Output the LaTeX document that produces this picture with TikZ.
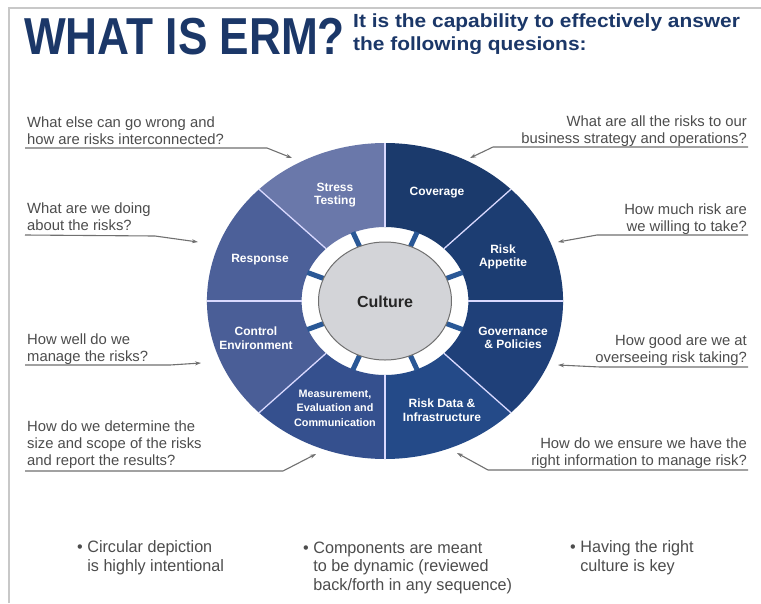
\documentclass[tikz,border=0pt]{standalone}
\usepackage{fontspec}
\setmainfont{Liberation Sans}
\newfontfamily\condfont[FakeStretch=0.85]{Liberation Sans}
\newfontfamily\subfont[FakeStretch=1.1]{Liberation Sans}
\newfontfamily\bulfont[FakeStretch=0.98]{Liberation Sans}
\usetikzlibrary{arrows.meta}
\definecolor{navy}{HTML}{1B3768}
\definecolor{qgray}{HTML}{4D4D4D}
\definecolor{lgray}{HTML}{707070}
\definecolor{frame}{HTML}{C8C8C8}
\definecolor{cCov}{HTML}{1B3A6C}
\definecolor{cApp}{HTML}{1C3D72}
\definecolor{cGov}{HTML}{1F4079}
\definecolor{cDat}{HTML}{244A88}
\definecolor{cMea}{HTML}{35508E}
\definecolor{cCon}{HTML}{4A5E97}
\definecolor{cRes}{HTML}{4C6099}
\definecolor{cStr}{HTML}{6A78AA}
\definecolor{ctick}{HTML}{2A5896}
\definecolor{cult}{HTML}{D3D4D8}
\tikzset{
  qtext/.style={font=\fontsize{14.8}{17}\selectfont, text=qgray, inner sep=0pt},
  qline/.style={draw=lgray, line width=1.1pt, -{Stealth[length=6pt,width=4pt]}},
  seglabel/.style={font=\bfseries\fontsize{12}{13.5}\selectfont, text=white, align=center, inner sep=0pt},
  divider/.style={draw=white!85!blue, line width=1.3pt},
  tickmark/.style={draw=ctick, line width=5pt},
  bullet/.style={font=\bulfont\fontsize{16.5}{18.5}\selectfont, text=qgray, align=left, inner sep=0pt, anchor=base west}
}
\begin{document}
\begin{tikzpicture}[x=1pt,y=-1pt]
\useasboundingbox (0,0) rectangle (761,603);
\fill[white] (0,0) rectangle (761,603);
% frame
\coordinate (fa) at (9,603);
\coordinate (fb) at (9,8);
\coordinate (fc) at (761,8);
\draw[frame, line width=1.2pt] (fa) -- (fb) -- (fc);
% title
\node[anchor=base west, inner sep=0pt, text=navy, font=\condfont\bfseries\fontsize{52}{52}\selectfont] (title) at (24,54) {WHAT IS ERM?};
\node[anchor=base west, inner sep=0pt, text=navy, align=left, font=\subfont\bfseries\fontsize{19}{22.5}\selectfont] (subtitle) at (353,50) {It is the capability to effectively answer\\the following quesions:};
% wheel
\begin{scope}[shift={(385,301)}, x=1.127pt, y=1pt]
  \foreach \a/\b/\c in {45/90/cCov, 0/45/cApp, -45/0/cGov, -90/-45/cDat, 225/270/cMea, 180/225/cCon, 135/180/cRes, 90/135/cStr}{
    \fill[\c] (\a:74) -- (\a:158) arc[start angle=\a, end angle=\b, radius=158] -- (\b:74) arc[start angle=\b, end angle=\a, radius=74] -- cycle;
  }
  \foreach \a in {0,45,...,315}{
    \draw[divider] (\a:74) -- (\a:158);
  }
  \foreach \a in {22.5,67.5,...,337.5}{
    \draw[tickmark] (\a:58) -- (\a:74.5);
  }
  \filldraw[fill=cult, draw=lgray, line width=1pt] (0,0) circle[radius=59];
\end{scope}
% segment labels
\node[font=\bfseries\fontsize{16}{16}\selectfont, text=black!85, inner sep=0pt] (culture) at (385,302) {Culture};
\node[seglabel] (stress) at (335,195) {Stress\\Testing};
\node[seglabel] (coverage) at (437,193) {Coverage};
\node[seglabel] (appetite) at (503,257) {Risk\\Appetite};
\node[seglabel] (response) at (260,260) {Response};
\node[seglabel] (control) at (256,338) {Control\\Environment};
\node[seglabel] (governance) at (513,338) {Governance\\\& Policies};
\node[seglabel, font=\bfseries\fontsize{10.8}{14.5}\selectfont] (measure) at (335,408) {Measurement,\\Evaluation and\\Communication};
\node[seglabel] (riskdata) at (442,410) {Risk Data \&\\Infrastructure};
% questions left (base = last line)
\node[qtext, anchor=base west, align=left] (q1) at (27,144) {What else can go wrong and\\how are risks interconnected?};
\node[qtext, anchor=base west, align=left] (q2) at (27,230) {What are we doing\\about the risks?};
\node[qtext, anchor=base west, align=left] (q3) at (27,361) {How well do we\\manage the risks?};
\node[qtext, anchor=base west, align=left] (q4) at (27,465) {How do we determine the\\size and scope of the risks\\and report the results?};
% questions right
\node[qtext, anchor=base east, align=right] (q5) at (747,143) {What are all the risks to our\\business strategy and operations?};
\node[qtext, anchor=base east, align=right] (q6) at (747,231) {How much risk are\\we willing to take?};
\node[qtext, anchor=base east, align=right] (q7) at (747,362) {How good are we at\\overseeing risk taking?};
\node[qtext, anchor=base east, align=right] (q8) at (747,465) {How do we ensure we have the\\right information to manage risk?};
% connector coordinates
\coordinate (q1s) at (25,148); \coordinate (q1k) at (267,148); \coordinate (q1t) at (292,158);
\coordinate (q2s) at (25,235); \coordinate (q2k) at (155,236); \coordinate (q2t) at (198,242);
\coordinate (q3s) at (25,365); \coordinate (q3k) at (170,365); \coordinate (q3t) at (201,363);
\coordinate (q4s) at (25,471); \coordinate (q4k) at (283,471); \coordinate (q4t) at (316,454);
\coordinate (q5s) at (748,147); \coordinate (q5k) at (493,147); \coordinate (q5t) at (470,158);
\coordinate (q6s) at (748,235); \coordinate (q6k) at (597,235); \coordinate (q6t) at (558,242);
\coordinate (q7s) at (748,367); \coordinate (q7k) at (600,367); \coordinate (q7t) at (558,365);
\coordinate (q8s) at (748,470); \coordinate (q8k) at (488,470); \coordinate (q8t) at (457,453);
\foreach \i in {1,...,8}{
  \draw[qline] (q\i s) -- (q\i k) -- (q\i t);
}
% bullets (base = last line)
\node[bullet] (b1) at (77,571) {\textbullet\ Circular depiction\\\hphantom{\textbullet\ }is highly intentional};
\node[bullet] (b2) at (303,590) {\textbullet\ Components are meant\\\hphantom{\textbullet\ }to be dynamic (reviewed\\\hphantom{\textbullet\ }back/forth in any sequence)};
\node[bullet] (b3) at (570,571) {\textbullet\ Having the right\\\hphantom{\textbullet\ }culture is key};
\end{tikzpicture}
\end{document}
